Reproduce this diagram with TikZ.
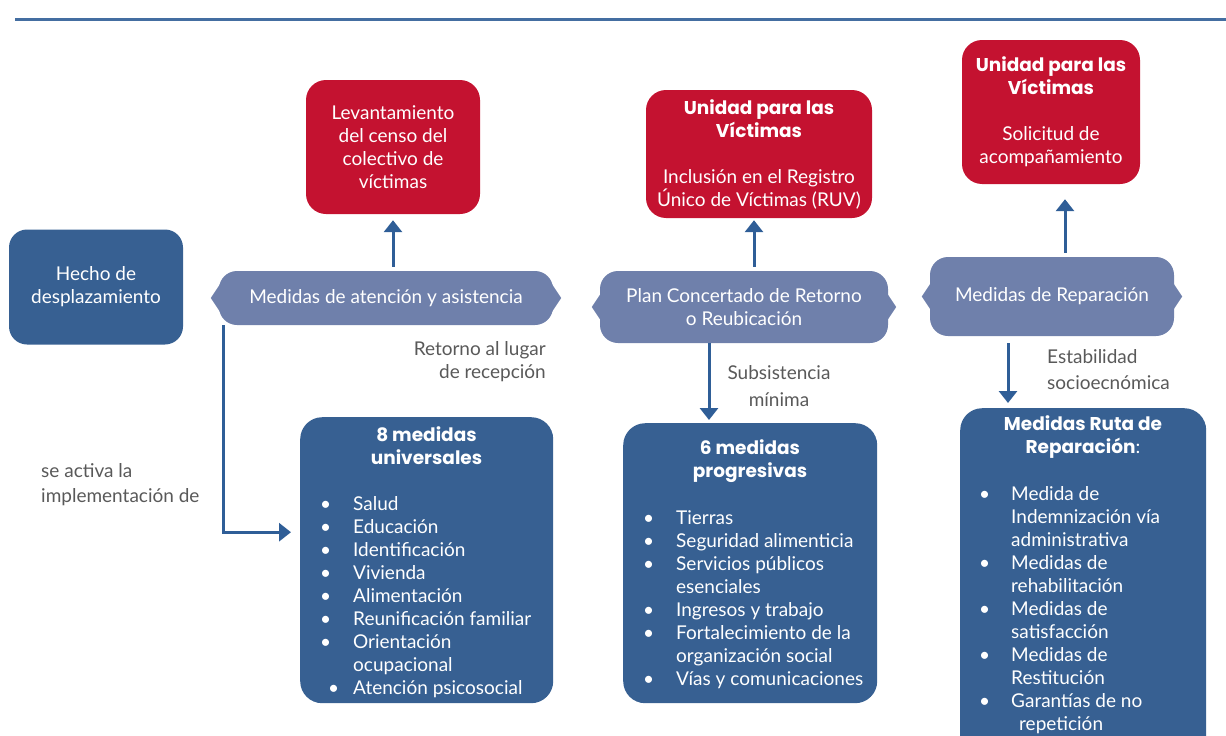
\documentclass[tikz,border=0pt]{standalone}
\usepackage{fontspec}
\setmainfont{Lato}
\newfontfamily\poppins{Poppins}
\usetikzlibrary{arrows.meta}

\definecolor{rojo}{HTML}{C41230}
\definecolor{azul}{HTML}{376092}
\definecolor{lila}{HTML}{6F80AB}
\definecolor{flecha}{HTML}{2F5E97}
\definecolor{gris}{HTML}{595959}

\newcommand{\negrita}[1]{{\fontsize{18.5}{23}\poppins\bfseries #1}}

\tikzset{
  every node/.style={font=\fontsize{19}{23}\selectfont, inner sep=0pt},
  caja/.style={rounded corners=20pt, align=center, text=white},
  cajaroja/.style={caja, fill=rojo},
  cajaazul/.style={caja, fill=azul, rounded corners=22pt},
  cajalila/.style={caja, fill=lila, rounded corners=18pt},
  lista/.style={text=white, anchor=north west},
  etiqueta/.style={text=gris},
  conector/.style={draw=flecha, line width=3pt, -{Triangle[width=18pt,length=12pt]}}
}

\begin{document}
\begin{tikzpicture}[x=1pt,y=-1pt]
    \useasboundingbox (0,0) rectangle (1226,736);

    % top rule
    \draw[line width=3pt, color=flecha!90] (15,19) -- (1226,19);

    % Hecho de desplazamiento
    \node[caja, fill=azul, rounded corners=18pt, minimum width=174pt, minimum height=115pt] (hecho) at (96,287) {Hecho de\\desplazamiento};

    % red boxes
    \node[cajaroja, minimum width=174pt, minimum height=134pt] (censo) at (393,147)
        {Levantamiento\\del censo del\\colectivo de\\víctimas};
    \node[cajaroja, minimum width=226pt, minimum height=128pt] (ruv) at (759,154)
        {\negrita{Unidad para las}\\\negrita{Víctimas}\\[23pt]Inclusión en el Registro\\Único de Víctimas (RUV)};
    \node[cajaroja, minimum width=178pt, minimum height=144pt] (solicitud) at (1051,112)
        {\negrita{Unidad para las}\\\negrita{Víctimas}\\[23pt]Solicitud de\\acompañamiento};

    % lilac tags
    \node[cajalila, minimum width=334pt, minimum height=54pt] (atencion) at (386,298) {Medidas de atención y asistencia};
    \node[cajalila, minimum width=288pt, minimum height=72pt] (plan) at (744,307) {Plan Concertado de Retorno\\o Reubicación};
    \node[cajalila, minimum width=244pt, minimum height=79pt] (rep) at (1052,296.5) {Medidas de Reparación};
    \foreach \n in {atencion,plan,rep}{
        \fill[lila] ([xshift=2pt,yshift=15pt]\n.west) -- ([xshift=-8pt]\n.west) -- ([xshift=2pt,yshift=-15pt]\n.west) -- cycle;
        \fill[lila] ([xshift=-2pt,yshift=15pt]\n.east) -- ([xshift=8pt]\n.east) -- ([xshift=-2pt,yshift=-15pt]\n.east) -- cycle;
    }

    % 8 medidas universales
    \node[cajaazul, anchor=north west, minimum width=253pt, minimum height=286pt] (univ) at (300,417) {};
    \node[text=white, align=center] (univtit) at (426.5,446) {\negrita{8 medidas}\\\negrita{universales}};
    \node[lista] (univlista) at (320,494) {\begin{tabular}{@{}p{33pt}@{}l@{}}
        \textbullet & Salud\\
        \textbullet & Educación\\
        \textbullet & Identificación\\
        \textbullet & Vivienda\\
        \textbullet & Alimentación\\
        \textbullet & Reunificación familiar\\
        \textbullet & Orientación\\
                    & ocupacional\\
        \hspace{8pt}\textbullet & Atención psicosocial
    \end{tabular}};

    % 6 medidas progresivas
    \node[cajaazul, anchor=north west, minimum width=254pt, minimum height=280pt] (prog) at (623,423) {};
    \node[text=white, align=center] (progtit) at (750,461.5) {\negrita{6 medidas}\\\negrita{progresivas}};
    \node[lista] (proglista) at (643,508) {\begin{tabular}{@{}p{33pt}@{}l@{}}
        \textbullet & Tierras\\
        \textbullet & Seguridad alimenticia\\
        \textbullet & Servicios públicos\\
                    & esenciales\\
        \textbullet & Ingresos y trabajo\\
        \textbullet & Fortalecimiento de la\\
                    & organización social\\
        \textbullet & Vías y comunicaciones
    \end{tabular}};

    % Medidas Ruta de Reparacion
    \node[cajaazul, anchor=north west, minimum width=246pt, minimum height=350pt] (ruta) at (960,408) {};
    \node[text=white, align=center] (rutatit) at (1083,437) {\negrita{Medidas Ruta de}\\\negrita{Reparación}:};
    \node[lista] (rutalista) at (979,484) {\begin{tabular}{@{}p{32pt}@{}l@{}}
        \textbullet & Medida de\\
                    & Indemnización vía\\
                    & administrativa\\
        \textbullet & Medidas de\\
                    & rehabilitación\\
        \textbullet & Medidas de\\
                    & satisfacción\\
        \textbullet & Medidas de\\
                    & Restitución\\
        \textbullet & Garantías de no\\
                    & \hspace{8pt}repetición
    \end{tabular}};

    % labels
    \node[etiqueta, align=right, anchor=east] (retorno) at (546,361.5) {Retorno al lugar\\de recepción};
    \node[etiqueta, align=left, anchor=west] (activa) at (41,485) {se activa la\\[2pt]implementación de};
    \node[etiqueta, align=center] (subsis) at (779,386.5) {Subsistencia\\[4pt]mínima};
    \node[etiqueta, align=left, anchor=west] (estab) at (1047,370) {Estabilidad\\[3pt]socioecnómica};

    % arrows up
    \draw[conector, shorten <=4pt, shorten >=6pt] (censo.south |- atencion.north) -- (censo.south);
    \draw[conector, shorten <=4pt, shorten >=2pt] ([xshift=-5pt]ruv.south |- plan.north) -- ([xshift=-5pt]ruv.south);
    \draw[conector, shorten <=4pt, shorten >=15pt] ([xshift=14pt]solicitud.south |- rep.north) -- ([xshift=14pt]solicitud.south);

    % arrows down
    \draw[conector, shorten >=3pt] ([xshift=-35pt]plan.south) -- ([xshift=-35pt]plan.south |- prog.north);
    \draw[conector, shorten <=7pt, shorten >=5pt] ([xshift=-44pt]rep.south) -- ([xshift=-44pt]rep.south |- ruta.north);

    % se activa la implementacion de
    \draw[conector, shorten >=9pt] ([xshift=5pt]atencion.south west) |- ([yshift=28pt]univ.west);
\end{tikzpicture}
\end{document}
